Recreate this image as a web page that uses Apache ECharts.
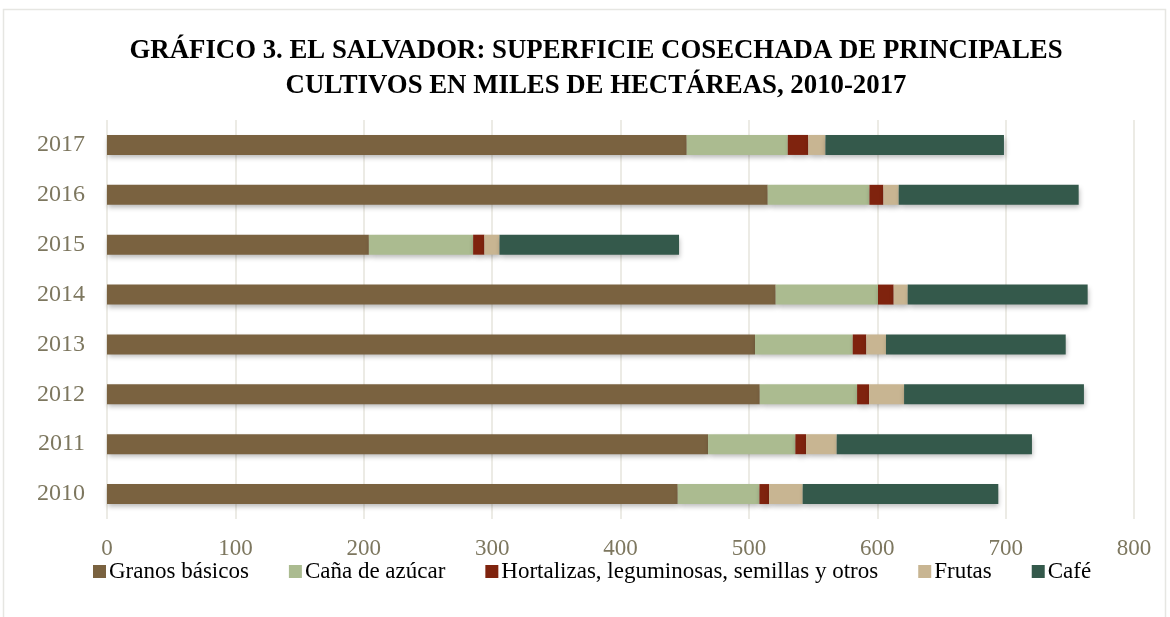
<!DOCTYPE html>
<html><head><meta charset="utf-8">
<script src="https://cdn.jsdelivr.net/npm/echarts@6/dist/echarts.min.js"></script>
<style>html,body{margin:0;padding:0;background:#fff}#c{width:1170px;height:617px}</style>
</head><body><div id="c"></div>
<script>
const years = ['2010','2011','2012','2013','2014','2015','2016','2017'];
const seriesNames = ['Granos básicos','Caña de azúcar','Hortalizas, leguminosas, semillas y otros','Frutas','Café'];
const granos = [444.6, 468.2, 508.5, 504.8, 520.9, 204.0, 514.7, 451.6];
const cana   = [63.6, 68.0, 75.8, 76.1, 79.7, 81.2, 79.2, 78.7];
const hort   = [7.5, 8.3, 9.3, 10.6, 12.2, 8.8, 10.9, 16.0];
const frutas = [26.2, 23.9, 27.3, 15.3, 10.9, 11.7, 11.9, 13.3];
const cafe   = [152.4, 152.1, 140.1, 140.0, 140.2, 139.9, 140.2, 139.1];
const xTicks = [0,100,200,300,400,500,600,700,800];
const colors = ['#7a6240','#abbb90','#7f230e','#c8b592','#34594b'];
const values = [granos, cana, hort, frutas, cafe];

const chart = echarts.init(document.getElementById('c'));
const font = '"Liberation Serif","Times New Roman",serif';
chart.setOption({
  animation:false,
  graphic:[{type:'rect',shape:{x:3.5,y:9.5,width:1162,height:620},style:{fill:'none',stroke:'#e6e6e2',lineWidth:1.5},silent:true}],
  title:{text:'GRÁFICO 3. EL SALVADOR: SUPERFICIE COSECHADA DE PRINCIPALES\nCULTIVOS EN MILES DE HECTÁREAS, 2010-2017',
    left:591, top:29, textAlign:'center',
    textStyle:{fontFamily:font,fontWeight:'bold',fontSize:26.8,color:'#000',lineHeight:35}},
  legend:{top:555,left:88,itemWidth:13,itemHeight:13,itemGap:40,icon:'rect',
    textStyle:{fontFamily:font,fontSize:23,color:'#000',padding:[0,0,0,-2]},
    data:seriesNames},
  grid:{left:107,right:36,top:120,bottom:98},
  xAxis:{type:'value',min:0,max:800,interval:100,
    axisLine:{show:false},axisTick:{show:false},
    splitLine:{lineStyle:{color:'#e6e4dc',width:1.5}},
    axisLabel:{fontFamily:font,fontSize:23,color:'#7d775f',margin:18,
      formatter:v=>xTicks.includes(v)?String(v):''}},
  yAxis:{type:'category',data:years,
    axisLine:{show:false},axisTick:{show:false},
    axisLabel:{fontFamily:font,fontSize:24,color:'#7d775f',margin:22}},
  series: seriesNames.map((n,i)=>({
    name:n,type:'bar',stack:'t',data:values[i],barWidth:20,
    itemStyle:{color:colors[i],shadowColor:'rgba(0,0,0,0.28)',shadowBlur:5,shadowOffsetY:3,shadowOffsetX:1}
  }))
});
</script></body></html>
